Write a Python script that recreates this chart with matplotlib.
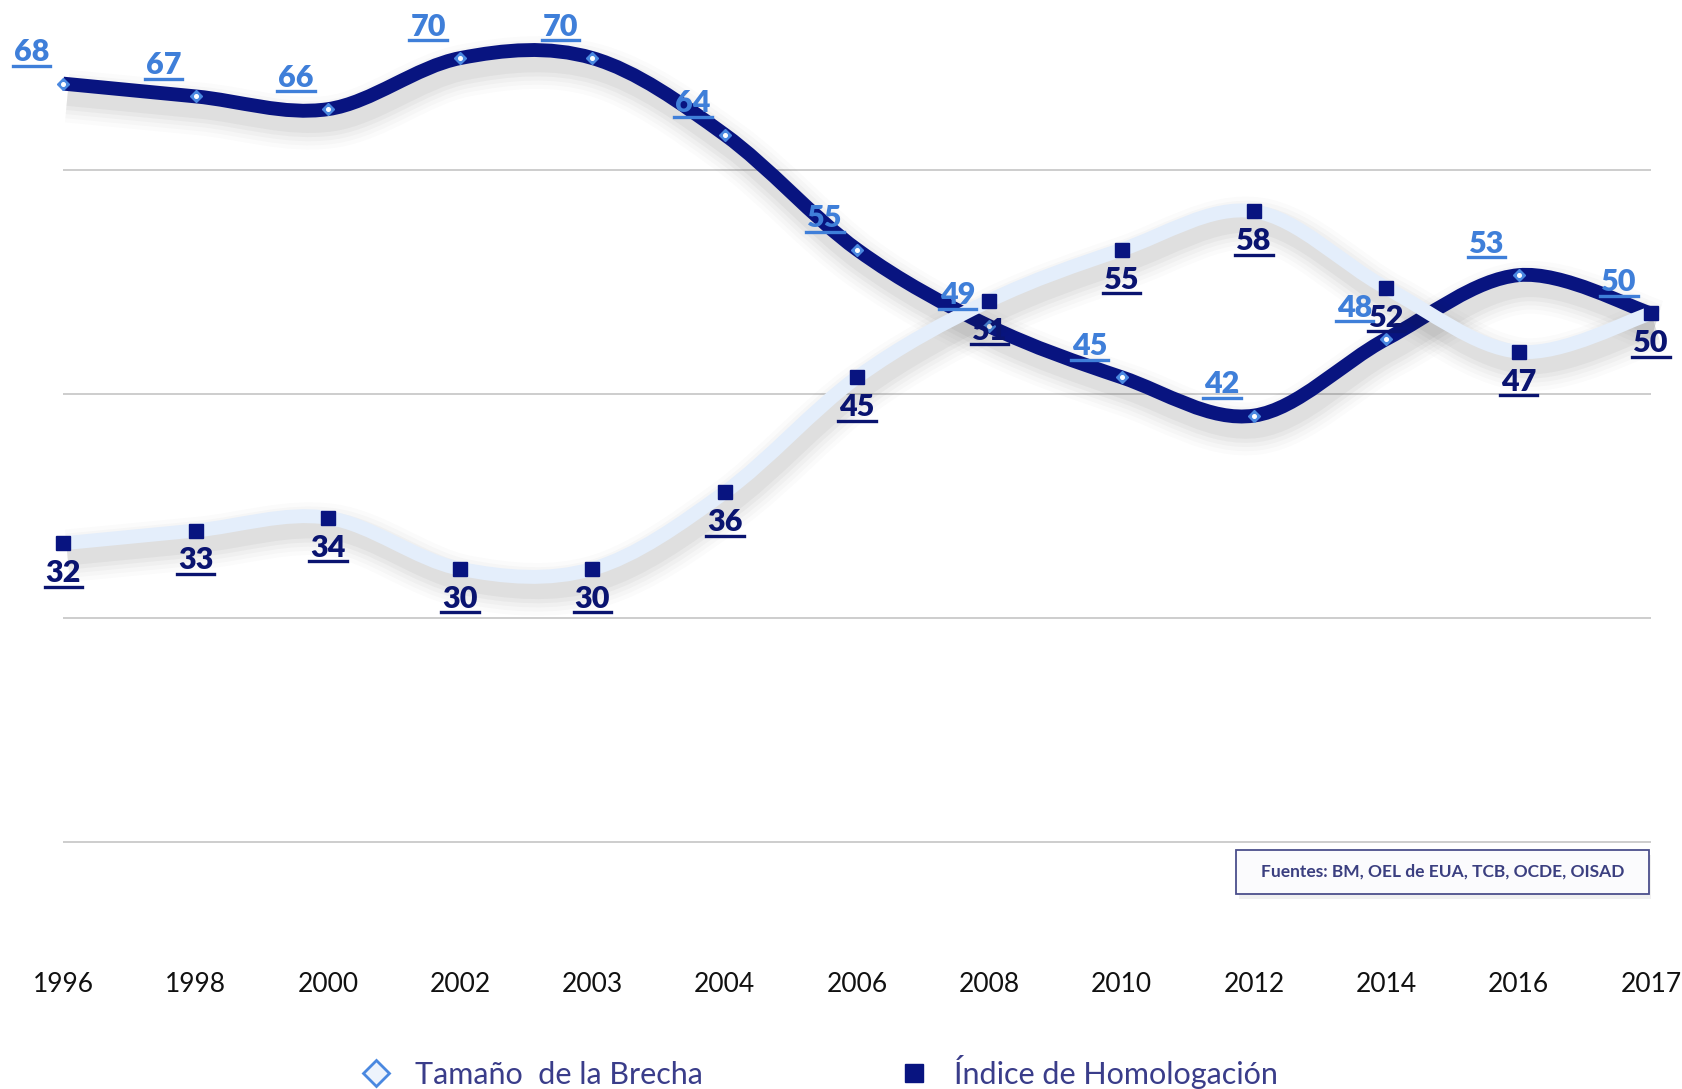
import matplotlib
matplotlib.use("Agg")
import matplotlib.pyplot as plt
import matplotlib.patheffects as pe
from matplotlib.path import Path
from matplotlib.patches import PathPatch, Rectangle
from matplotlib.lines import Line2D
from matplotlib.transforms import blended_transform_factory
import numpy as np

plt.rcParams['font.family'] = ['Lato', 'DejaVu Sans']

years = ['1996', '1998', '2000', '2002', '2003', '2004', '2006',
         '2008', '2010', '2012', '2014', '2016', '2017']
brecha = [68, 67, 66, 70, 70, 64, 55, 49, 45, 42, 48, 53, 50]
homolog = [32, 33, 34, 30, 30, 36, 45, 51, 55, 58, 52, 47, 50]
grid_vals = [8.6, 26.15, 43.7, 61.25]

NAVY = '#081480'
LIGHT = '#e4eefb'
BLUE = '#3f7fd9'
LBL_NAVY = '#0a1470'


def smooth_path(xs, ys):
    # bezier path through the points, like a spreadsheet "smoothed line"
    pts = list(zip(xs, ys))
    n = len(pts)
    verts = [pts[0]]
    codes = [Path.MOVETO]
    for i in range(n - 1):
        p0 = pts[i - 1] if i > 0 else pts[i]
        p1 = pts[i]
        p2 = pts[i + 1]
        p3 = pts[i + 2] if i + 2 < n else pts[i + 1]
        c1 = (p1[0] + (p2[0] - p0[0]) / 6, p1[1] + (p2[1] - p0[1]) / 6)
        c2 = (p2[0] - (p3[0] - p1[0]) / 6, p2[1] - (p3[1] - p1[1]) / 6)
        verts += [c1, c2, p2]
        codes += [Path.CURVE4] * 3
    return Path(verts, codes)


def shadow():
    # soft blurred drop shadow faked with a few wide, faint strokes
    fx = []
    for lw, a in [(38, 0.014), (32, 0.018), (26, 0.025), (20, 0.035), (14, 0.045)]:
        fx.append(pe.SimpleLineShadow(offset=(3, -9), shadow_color='#202020',
                                      alpha=a, rho=1.0, linewidth=lw))
    fx.append(pe.Normal())
    return fx


fig = plt.figure(figsize=(16.82, 10.89), dpi=100)
ax = fig.add_axes([0, 0, 1, 1])
ax.set_xlim(-0.478, 12.235)
ax.set_ylim(-10.74, 74.55)
ax.axis('off')

x = np.arange(len(years))

ax.hlines(grid_vals, 0, len(years) - 1, color='#c9c9c9', lw=1.3, zorder=1)

p1 = PathPatch(smooth_path(x, brecha), facecolor='none', edgecolor=NAVY,
               lw=10, capstyle='butt', zorder=2)
p1.set_path_effects(shadow())
ax.add_patch(p1)
ax.plot(x, brecha, linestyle='none', marker='D', ms=6.5, color='#4a88e0',
        zorder=3)
ax.plot(x, brecha, linestyle='none', marker='o', ms=2.6, color='white',
        zorder=3.1)

p2 = PathPatch(smooth_path(x, homolog), facecolor='none', edgecolor=LIGHT,
               lw=10, capstyle='butt', zorder=4)
p2.set_path_effects(shadow())
ax.add_patch(p2)
ax.plot(x, homolog, linestyle='none', marker='s', ms=9.5, color=NAVY,
        zorder=5)

labels = []
for i, v in enumerate(brecha):
    t = ax.annotate(str(v), (i, v), xytext=(-23, 16), textcoords='offset points',
                    ha='center', va='baseline', fontsize=22, fontweight='heavy',
                    color=BLUE, zorder=6)
    labels.append((t, BLUE))
for i, v in enumerate(homolog):
    t = ax.annotate(str(v), (i, v), xytext=(0, -28), textcoords='offset points',
                    ha='center', va='baseline', fontsize=22, fontweight='heavy',
                    color=LBL_NAVY, zorder=6)
    labels.append((t, LBL_NAVY))

tr = blended_transform_factory(ax.transData, ax.transAxes)
for i, yr in enumerate(years):
    ax.text(i, 0.0887, yr, transform=tr, ha='center', va='baseline',
            fontsize=19, color='#111111')

# source box
box = Rectangle((0.7347, 0.1793), 0.2455, 0.0404, transform=fig.transFigure,
                facecolor='#fbfbfd', edgecolor='#4b4f8c', lw=1.3, zorder=7)
box.set_path_effects([pe.SimplePatchShadow(offset=(2, -4), alpha=0.08), pe.Normal()])
fig.add_artist(box)
fig.text(0.8575, 0.1995, 'Fuentes: BM, OEL de EUA, TCB, OCDE, OISAD',
         ha='center', va='center', fontsize=12.5, fontweight='bold',
         color='#3b3f80', zorder=8)

handles = [
    Line2D([], [], linestyle='none', marker='D', ms=13, mfc='#edf3fc',
           mec='#4a88e0', mew=2),
    Line2D([], [], linestyle='none', marker='s', ms=13, color=NAVY),
]
fig.legend(handles, ['Tamaño  de la Brecha', 'Índice de Homologación'],
           loc='center', bbox_to_anchor=(0.487, 0.016), ncol=2, frameon=False,
           fontsize=22, labelcolor='#3a3d8a', handlelength=1.0,
           handletextpad=0.8, columnspacing=6.4)

# underline the value labels
fig.canvas.draw()
r = fig.canvas.get_renderer()
inv = fig.transFigure.inverted()
for t, c in labels:
    bb = t.get_window_extent(r)
    yb = bb.y0 + 0.5
    (x0, y0), (x1, _) = inv.transform([(bb.x0 - 1, yb), (bb.x1 + 1, yb)])
    fig.add_artist(Line2D([x0, x1], [y0, y0], transform=fig.transFigure,
                          color=c, lw=2.4, zorder=9))

fig.savefig('out.png', dpi=100)
